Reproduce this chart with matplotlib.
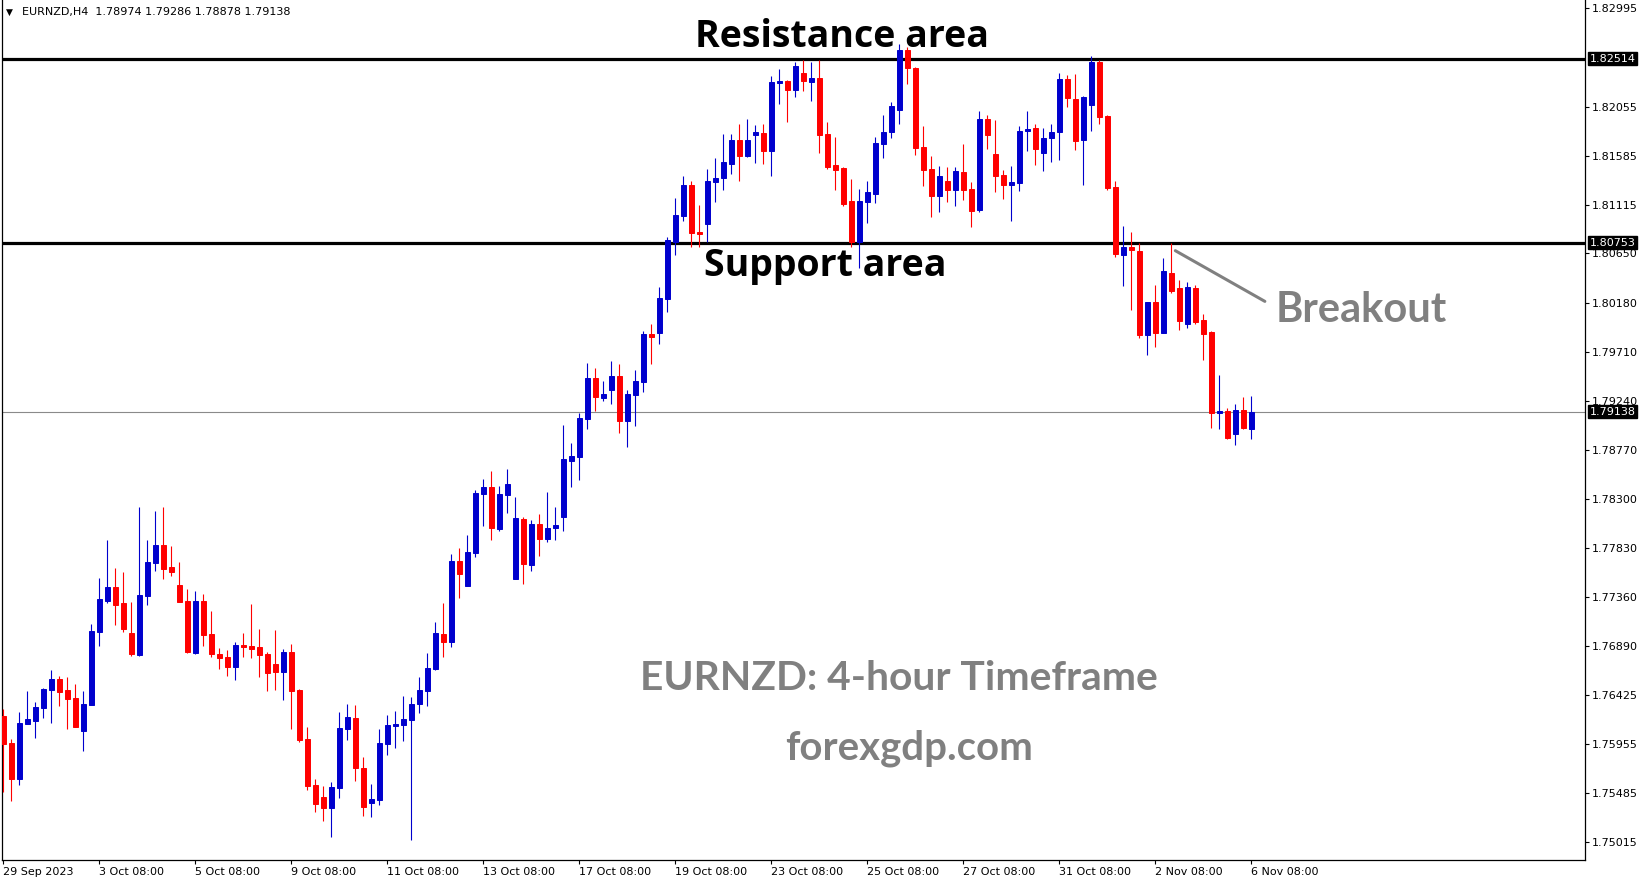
import matplotlib
matplotlib.use("Agg")
import matplotlib.pyplot as plt
import numpy as np

symbol = "EURNZD,H4"

opens = [
    1.76223, 1.75964, 1.75620, 1.76146, 1.76175, 1.76299, 1.76472, 1.76577, 1.76472, 1.76395,
    1.76079, 1.76328, 1.77027, 1.77323, 1.77457, 1.77304, 1.77017, 1.76807, 1.77371, 1.77687,
    1.77859, 1.77649, 1.77477, 1.77323, 1.76826, 1.77323, 1.77008, 1.76816, 1.76788, 1.76692,
    1.76902, 1.76893, 1.76883, 1.76816, 1.76721, 1.76644, 1.76835, 1.76472, 1.76003, 1.75563,
    1.75448, 1.75342, 1.75534, 1.76098, 1.76204, 1.75725, 1.75390, 1.75419, 1.75955, 1.76127,
    1.76137, 1.76185, 1.76338, 1.76462, 1.76673, 1.77008, 1.76931, 1.77706, 1.77467, 1.77783,
    1.78347, 1.78414, 1.78012, 1.78338, 1.77534, 1.78108, 1.77668, 1.78060, 1.77917, 1.78022,
    1.78127, 1.78663, 1.78702, 1.79065, 1.79458, 1.79266, 1.79343, 1.79477, 1.79046, 1.79295,
    1.79419, 1.79879, 1.79888, 1.80214, 1.80759, 1.81008, 1.81305, 1.80855, 1.80931, 1.81333,
    1.81372, 1.81506, 1.81735, 1.81582, 1.81783, 1.81802, 1.81630, 1.82281, 1.82300, 1.82214,
    1.82376, 1.82290, 1.82329, 1.81793, 1.81496, 1.81467, 1.81151, 1.80759, 1.81142, 1.81218,
    1.81697, 1.81812, 1.82022, 1.82597, 1.82424, 1.81668, 1.81458, 1.81199, 1.81343, 1.81257,
    1.81429, 1.81266, 1.81065, 1.81936, 1.81601, 1.81400, 1.81305, 1.81324, 1.81821, 1.81850,
    1.81611, 1.81754, 1.81812, 1.82319, 1.82128, 1.81735, 1.82070, 1.82482, 1.81965, 1.81285,
    1.80635, 1.80711, 1.80673, 1.79869, 1.80185, 1.79888, 1.80462, 1.80319, 1.79974, 1.80319,
    1.80013, 1.79898, 1.79123, 1.79142, 1.78922, 1.79151, 1.78974,
]
highs = [
    1.76290, 1.76003, 1.76261, 1.76462, 1.76357, 1.76491, 1.76663, 1.76606, 1.76596, 1.76529,
    1.76462, 1.77103, 1.77544, 1.77907, 1.77639, 1.77601, 1.77314, 1.78223, 1.77907, 1.78185,
    1.78223, 1.77850, 1.77697, 1.77438, 1.77419, 1.77390, 1.77228, 1.76874, 1.76855, 1.76931,
    1.77017, 1.77295, 1.77055, 1.76835, 1.77046, 1.76864, 1.76912, 1.76481, 1.76118, 1.75620,
    1.75553, 1.75591, 1.76261, 1.76338, 1.76328, 1.75831, 1.75572, 1.76098, 1.76232, 1.76271,
    1.76414, 1.76405, 1.76596, 1.76826, 1.77122, 1.77304, 1.77773, 1.77831, 1.77955, 1.78386,
    1.78491, 1.78568, 1.78424, 1.78587, 1.78319, 1.78127, 1.78099, 1.78156, 1.78367, 1.78223,
    1.79008, 1.78835, 1.79123, 1.79601, 1.79553, 1.79429, 1.79620, 1.79592, 1.79343, 1.79534,
    1.79907, 1.79974, 1.80328, 1.80807, 1.81180, 1.81391, 1.81343, 1.81113, 1.81458, 1.81563,
    1.81793, 1.81793, 1.81888, 1.81936, 1.81879, 1.81888, 1.82348, 1.82415, 1.82310, 1.82482,
    1.82501, 1.82482, 1.82501, 1.81907, 1.81764, 1.81477, 1.81362, 1.81266, 1.81343, 1.81764,
    1.81974, 1.82099, 1.82654, 1.82625, 1.82434, 1.81869, 1.81582, 1.81486, 1.81477, 1.81477,
    1.81697, 1.81333, 1.82013, 1.81974, 1.81927, 1.81448, 1.81486, 1.81869, 1.82013, 1.81888,
    1.81850, 1.81888, 1.82376, 1.82357, 1.82367, 1.82156, 1.82539, 1.82501, 1.81974, 1.81343,
    1.80912, 1.80855, 1.80749, 1.80185, 1.80348, 1.80606, 1.80749, 1.80395, 1.80376, 1.80348,
    1.80070, 1.79907, 1.79486, 1.79170, 1.79209, 1.79276, 1.79286,
]
lows = [
    1.75496, 1.75409, 1.75563, 1.76146, 1.76012, 1.76204, 1.76156, 1.76319, 1.76098, 1.76118,
    1.75888, 1.76328, 1.76893, 1.77304, 1.77094, 1.77027, 1.76797, 1.76797, 1.77285, 1.77611,
    1.77534, 1.77563, 1.77314, 1.76826, 1.76816, 1.76893, 1.76788, 1.76673, 1.76606, 1.76567,
    1.76788, 1.76778, 1.76596, 1.76462, 1.76472, 1.76376, 1.76098, 1.75974, 1.75515, 1.75304,
    1.75218, 1.75065, 1.75438, 1.75993, 1.75601, 1.75266, 1.75256, 1.75371, 1.75850, 1.75917,
    1.75984, 1.75036, 1.76252, 1.76319, 1.76663, 1.76788, 1.76883, 1.77352, 1.77467, 1.77745,
    1.78041, 1.77907, 1.77993, 1.78166, 1.77534, 1.77486, 1.77611, 1.77754, 1.77888, 1.77907,
    1.77993, 1.78414, 1.78481, 1.78969, 1.79142, 1.79237, 1.79209, 1.78931, 1.78797, 1.78998,
    1.79324, 1.79592, 1.79783, 1.80089, 1.80635, 1.80960, 1.80711, 1.80711, 1.80759, 1.81142,
    1.81257, 1.81410, 1.81343, 1.81573, 1.81515, 1.81506, 1.81391, 1.82080, 1.81907, 1.82147,
    1.82204, 1.82108, 1.81611, 1.81458, 1.81257, 1.81104, 1.80711, 1.80510, 1.80941, 1.81132,
    1.81563, 1.81754, 1.81888, 1.82271, 1.81592, 1.81295, 1.80998, 1.81046, 1.81142, 1.81104,
    1.81161, 1.80903, 1.81046, 1.81649, 1.81238, 1.81171, 1.80960, 1.81247, 1.81630, 1.81496,
    1.81439, 1.81525, 1.81544, 1.82051, 1.81640, 1.81305, 1.81821, 1.81888, 1.81257, 1.80616,
    1.80338, 1.80108, 1.79840, 1.79678, 1.79754, 1.79888, 1.80271, 1.79917, 1.79936, 1.79974,
    1.79630, 1.78979, 1.78969, 1.78874, 1.78816, 1.78969, 1.78878,
]
closes = [
    1.75955, 1.75620, 1.76156, 1.76194, 1.76309, 1.76481, 1.76577, 1.76453, 1.76386, 1.76118,
    1.76338, 1.77036, 1.77343, 1.77457, 1.77285, 1.77055, 1.76816, 1.77381, 1.77697, 1.77859,
    1.77630, 1.77601, 1.77314, 1.76835, 1.77323, 1.76998, 1.76816, 1.76778, 1.76692, 1.76902,
    1.76883, 1.76864, 1.76807, 1.76634, 1.76644, 1.76835, 1.76462, 1.75993, 1.75553, 1.75381,
    1.75342, 1.75543, 1.76108, 1.76213, 1.75725, 1.75352, 1.75429, 1.75964, 1.76137, 1.76146,
    1.76194, 1.76338, 1.76472, 1.76682, 1.77017, 1.76931, 1.77706, 1.77582, 1.77792, 1.78357,
    1.78414, 1.78022, 1.78347, 1.78443, 1.78118, 1.77678, 1.78060, 1.77917, 1.78022, 1.78051,
    1.78682, 1.78711, 1.79075, 1.79458, 1.79276, 1.79304, 1.79477, 1.79046, 1.79304, 1.79429,
    1.79879, 1.79850, 1.80223, 1.80778, 1.81017, 1.81305, 1.80845, 1.80836, 1.81343, 1.81372,
    1.81525, 1.81735, 1.81582, 1.81735, 1.81812, 1.81630, 1.82290, 1.82300, 1.82214, 1.82443,
    1.82300, 1.82329, 1.81783, 1.81477, 1.81448, 1.81123, 1.80759, 1.81151, 1.81238, 1.81706,
    1.81812, 1.82061, 1.82597, 1.82424, 1.81659, 1.81448, 1.81199, 1.81391, 1.81257, 1.81439,
    1.81257, 1.81056, 1.81936, 1.81783, 1.81391, 1.81305, 1.81333, 1.81821, 1.81840, 1.81649,
    1.81754, 1.81812, 1.82319, 1.82137, 1.81726, 1.82147, 1.82482, 1.81955, 1.81276, 1.80644,
    1.80711, 1.80683, 1.79869, 1.80185, 1.79888, 1.80482, 1.80290, 1.80003, 1.80328, 1.79993,
    1.79879, 1.79123, 1.79142, 1.78883, 1.79151, 1.78979, 1.79138,
]

x_tick_pos = [0, 12, 24, 36, 48, 60, 72, 84, 96, 108, 120, 132, 144, 156]
x_tick_labels = ["29 Sep 2023", "3 Oct 08:00", "5 Oct 08:00", "9 Oct 08:00",
                 "11 Oct 08:00", "13 Oct 08:00", "17 Oct 08:00", "19 Oct 08:00",
                 "23 Oct 08:00", "25 Oct 08:00", "27 Oct 08:00", "31 Oct 08:00",
                 "2 Nov 08:00", "6 Nov 08:00"]
y_ticks = [1.82995, 1.82055, 1.81585, 1.81115, 1.80650, 1.80180, 1.79710,
           1.79240, 1.78770, 1.78300, 1.77830, 1.77360, 1.76890, 1.76425,
           1.75955, 1.75485, 1.75015]

resistance = 1.82514
support = 1.80753
breakout_idx = 146

BLUE = "#0000CD"
RED = "#FF0000"
GRAY = "#808080"

W, H = 1649, 884
fig = plt.figure(figsize=(W / 100, H / 100), dpi=100, facecolor="white")
ax = fig.add_axes([2 / W, 1 - 860 / H, 1583 / W, 860 / H])

o = np.array(opens); h = np.array(highs); l = np.array(lows); c = np.array(closes)
x = np.arange(len(o))
col = np.where(c >= o, BLUE, RED)

ax.vlines(x, l, h, colors=col, linewidth=0.8, zorder=3)
ax.bar(x, np.abs(c - o), bottom=np.minimum(o, c), width=0.56, color=col,
       edgecolor=col, linewidth=0.7, zorder=4)

ax.axhline(resistance, color="black", lw=2.3, zorder=2)
ax.axhline(support, color="black", lw=2.3, zorder=2)
ax.axhline(c[-1], color="#8a8a8a", lw=0.8, zorder=1)

ax.set_xlim(-0.1625, 197.71)
ax.set_ylim(1.748469, 1.830754)

ax.yaxis.tick_right()
ax.set_yticks(y_ticks)
ax.set_yticklabels([f"{v:.5f}" for v in y_ticks])
ax.set_xticks(x_tick_pos)
ax.set_xticklabels(x_tick_labels, ha="left")
ax.tick_params(axis="y", direction="out", length=3, width=0.8, pad=2,
               labelsize=8, colors="black")
ax.tick_params(axis="x", direction="out", length=3, width=0.8, pad=2,
               labelsize=8, colors="black")
for s in ["left", "right", "bottom"]:
    ax.spines[s].set_linewidth(0.9)
ax.spines["top"].set_visible(False)

for v in [resistance, support, c[-1]]:
    ax.annotate(f"{v:.5f}", xy=(1, v), xycoords=("axes fraction", "data"),
                xytext=(3.2, 0), textcoords="offset points", ha="left", va="center",
                color="white", fontsize=8, zorder=10, annotation_clip=False,
                bbox=dict(boxstyle="square,pad=0.14", fc="black", ec="black"))

# header
fig.text(6 / W, 1 - 12.5 / H, "\u25BC", fontsize=6.5, va="center", ha="left")
fig.text(22 / W, 1 - 12.5 / H,
         f"{symbol}  {o[-1]:.5f} {h[-1]:.5f} {l[-1]:.5f} {c[-1]:.5f}",
         fontsize=8, va="center", ha="left")

# annotations
ax.text(104.8, 1.82626, "Resistance area", fontsize=27, fontweight="bold",
        family="Open Sans", ha="center", va="baseline", color="black", zorder=6)
ax.text(102.7, 1.80439, "Support area", fontsize=27, fontweight="bold",
        family="Open Sans", ha="center", va="baseline", color="black", zorder=6)
ax.annotate("Breakout", xy=(breakout_idx + 0.5, 1.80677), xytext=(169.8, 1.79998),
            fontsize=30, fontweight="bold", family="Lato", color=GRAY,
            ha="center", va="baseline", zorder=6,
            arrowprops=dict(arrowstyle="-", color=GRAY, lw=2.2, shrinkA=7,
                            shrinkB=0, relpos=(0, 0.55)))
ax.text(111.97, 1.76473, "EURNZD: 4-hour Timeframe", fontsize=29.3, fontweight="bold",
        family="Lato", ha="center", va="baseline", color=GRAY, zorder=6)
ax.text(113.2, 1.75804, "forexgdp.com", fontsize=28.9, fontweight="bold",
        family="Lato", ha="center", va="baseline", color=GRAY, zorder=6)

fig.savefig("out.png", dpi=100, facecolor="white")
